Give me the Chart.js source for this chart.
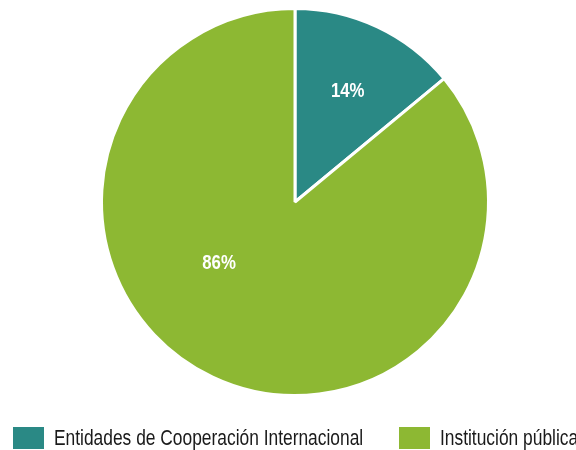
<!DOCTYPE html>
<html lang="es">
  <head>
    <meta charset="UTF-8" />
    <title>Distribución por tipo de entidad</title>
    <script src="https://cdn.jsdelivr.net/npm/chart.js"></script>
    <style>
      html, body { margin: 0; background: #fff; overflow: hidden; }
      #wrap { position: relative; width: 576px; height: 450px; overflow: hidden; }
      #legend {
        position: absolute; left: 0; top: 427px; width: 576px; height: 23px;
        font-family: "Liberation Sans", Arial, sans-serif;
        font-size: 22px; color: #1a1a1a; white-space: nowrap;
      }
      .item { position: absolute; top: 0; display: flex; align-items: center; height: 22px; }
      .box { width: 31px; height: 22px; margin-right: 10px; flex: none; }
      .txt { display: inline-block; transform: scaleX(0.79); transform-origin: left center; line-height: 22px; }
    </style>
  </head>
  <body>
    <div id="wrap">
      <canvas id="myChart" width="576" height="450"></canvas>
      <div id="legend"></div>
    </div>
    <script>
      const categories = ["Entidades de Cooperación Internacional", "Institución pública"];
      const shares = [14, 86];
      const colors = ["#2a8985", "#8db833"];

      // where each percentage sits: fraction of radius, shift from mid-angle (deg)
      const labelRadius = [0.64, 0.5];
      const labelShift = [0, 26.5];

      const pctLabels = {
        id: "pctLabels",
        afterDatasetsDraw(chart) {
          const ctx = chart.ctx;
          const meta = chart.getDatasetMeta(0);
          ctx.fillStyle = "#fff";
          ctx.font = 'bold 21px "Liberation Sans", Arial, sans-serif';
          ctx.textAlign = "center";
          ctx.textBaseline = "middle";
          meta.data.forEach((arc, i) => {
            const p = arc.getProps(["x", "y", "startAngle", "endAngle", "outerRadius"], true);
            const a = (p.startAngle + p.endAngle) / 2 + labelShift[i] * Math.PI / 180;
            const r = p.outerRadius * labelRadius[i];
            ctx.save();
            ctx.translate(p.x + Math.cos(a) * r, p.y + Math.sin(a) * r);
            ctx.scale(0.8, 1); // narrow look
            ctx.fillText(shares[i] + "%", 0, 1);
            ctx.restore();
          });
        },
      };

      new Chart("myChart", {
        type: "pie",
        data: {
          labels: categories,
          datasets: [{
            data: shares,
            backgroundColor: colors,
            borderColor: "#fff",
            borderWidth: 3,
          }],
        },
        options: {
          responsive: false,
          animation: false,
          layout: { padding: { top: 7, bottom: 53, left: 14, right: 0 } },
          plugins: { legend: { display: false }, tooltip: { enabled: false } },
        },
        plugins: [pctLabels],
      });

      // legend boxes at the reference's offsets
      const legendLeft = [13, 399];
      const legend = document.getElementById("legend");
      categories.forEach((c, i) => {
        const item = document.createElement("div");
        item.className = "item";
        item.style.left = legendLeft[i] + "px";
        item.innerHTML = `<span class="box" style="background:${colors[i]}"></span><span class="txt">${c}</span>`;
        legend.appendChild(item);
      });
    </script>
  </body>
</html>
